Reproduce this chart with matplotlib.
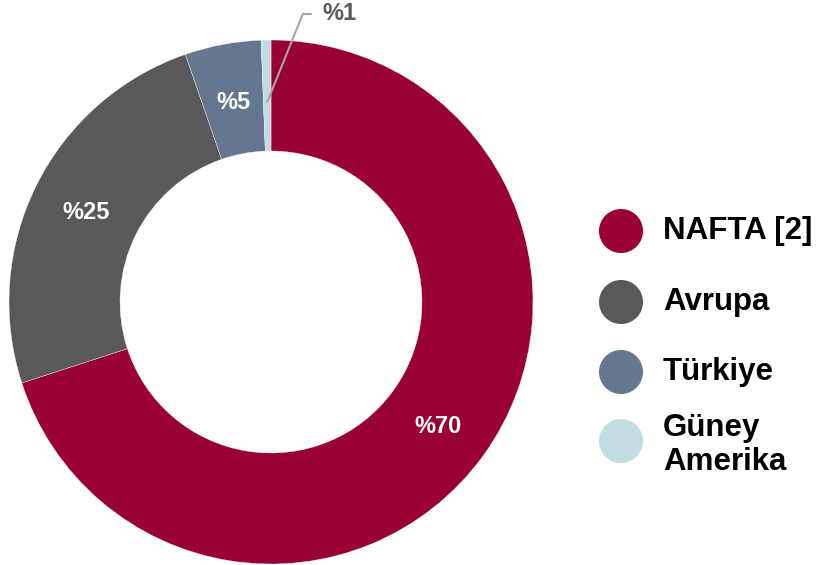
import matplotlib.pyplot as plt
import numpy as np

plt.rcParams.update({
    "font.family": "Liberation Sans",
    "font.weight": "bold",
})

# data
regions = ['NAFTA [2]', 'Avrupa', 'Türkiye', 'Güney\nAmerika']
shares = [70.0, 24.7, 4.7, 0.6]
share_labels = ['%70', '%25', '%5', '%1']
colors = ['#990033', '#595959', '#657790', '#C2DDE1']

W, H = 817, 565
CENTER = (271, 263)
R_OUT = 262
R_IN = 151

fig = plt.figure(figsize=(W / 100, H / 100), dpi=100)
ax = fig.add_axes([0, 0, 1, 1])

wedges, _ = ax.pie(shares, colors=colors, startangle=90, counterclock=False,
                   center=CENTER, radius=R_OUT, frame=True,
                   wedgeprops={'width': R_OUT - R_IN, 'edgecolor': 'white', 'linewidth': 0.25})
ax.set_xlim(0, W)
ax.set_ylim(0, H)
ax.set_aspect('equal')
ax.axis('off')

# slice labels
r_mid = (R_OUT + R_IN) / 2
for i, (w, lab) in enumerate(zip(wedges, share_labels)):
    ang = np.deg2rad((w.theta1 + w.theta2) / 2)
    x = CENTER[0] + r_mid * np.cos(ang)
    y = CENTER[1] + r_mid * np.sin(ang)
    if i < 3:
        ax.text(x, y - 3, lab, color='white', fontsize=17, ha='center', va='center')
    else:
        x0 = CENTER[0] + 200 * np.cos(ang)
        y0 = CENTER[1] + 200 * np.sin(ang)
        ax.annotate(lab, xy=(x0, y0), xytext=(322, H - 14), color='#595959',
                    fontsize=17, ha='left', va='center',
                    arrowprops=dict(arrowstyle='-', color='#A6A6A6', lw=1.5,
                                    connectionstyle='angle,angleA=0,angleB=68,rad=0',
                                    shrinkA=6, shrinkB=0))

# legend
leg_y = [H - 231, H - 302, H - 372, H - 441]
for c, name, y in zip(colors, regions, leg_y):
    ax.scatter([621], [y], s=44 ** 2 * 0.52, color=c, edgecolors='none')
    ty = y - 4 if '\n' in name else y
    ax.text(663, ty, name, fontsize=22.5, ha='left', va='center', color='black')

plt.savefig('out.png', dpi=100)
